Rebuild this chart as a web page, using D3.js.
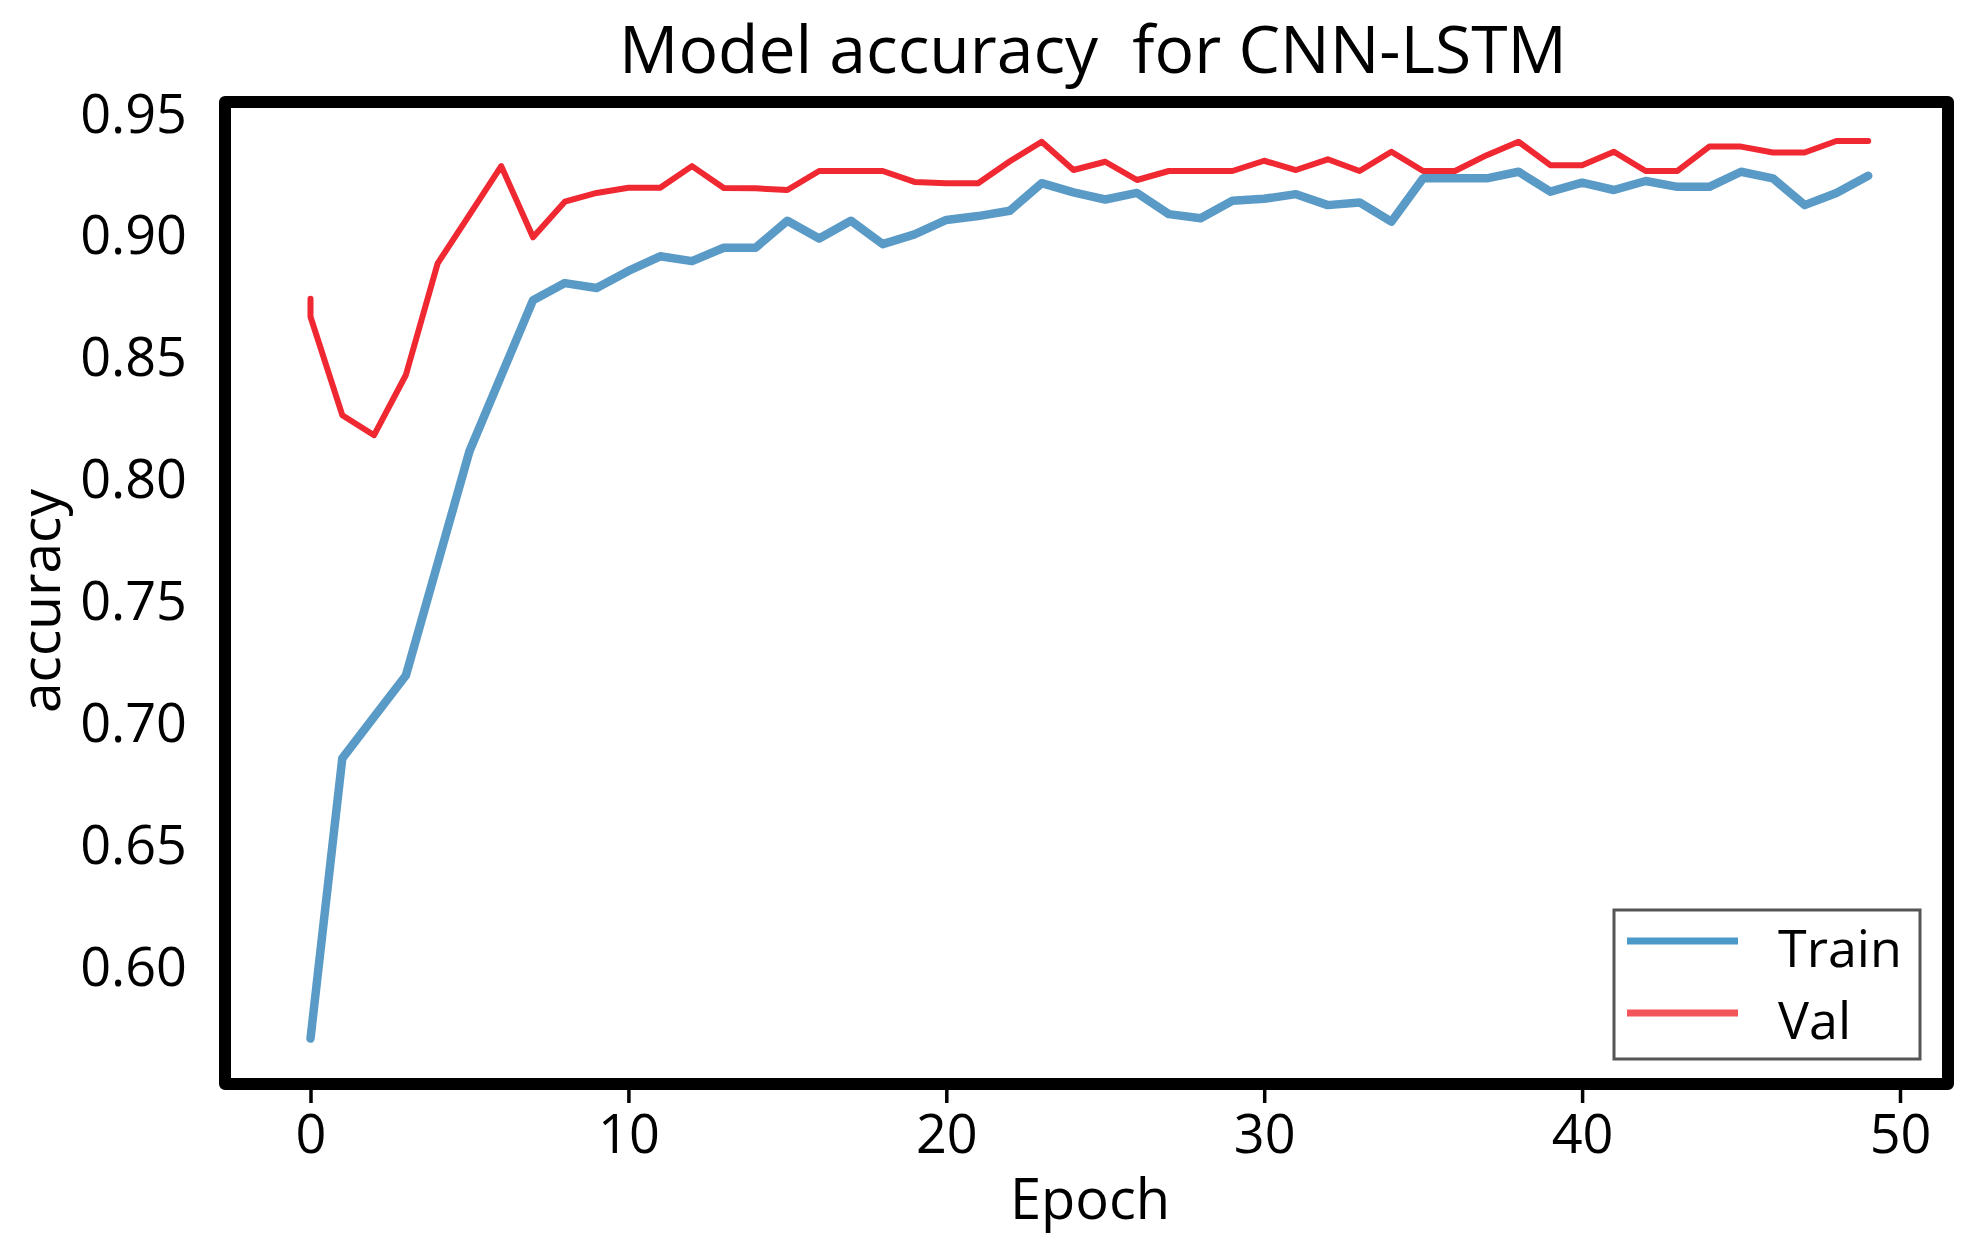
<!DOCTYPE html>
<html>
<head>
<meta charset="utf-8">
<script src="https://cdn.jsdelivr.net/npm/d3@7"></script>
<style>
  body { margin: 0; background: #fff; }
  text { font-family: "Open Sans", "Noto Sans", sans-serif; fill: #000; }
</style>
</head>
<body>
<script>

// values
var epochs = d3.range(50);

var trainAcc = [
  0.570, 0.685, 0.702, 0.719, 0.765, 0.811, 0.842, 0.873, 0.880, 0.878,
  0.885, 0.891, 0.889, 0.8945, 0.8945, 0.9056, 0.8983, 0.9056, 0.896, 0.900,
  0.9059, 0.9075, 0.9097, 0.921, 0.9172, 0.9143, 0.917, 0.9083, 0.9066, 0.9138,
  0.9146, 0.9165, 0.912, 0.9131, 0.9052, 0.923, 0.923, 0.923, 0.9257, 0.9175,
  0.9212, 0.9182, 0.9219, 0.9195, 0.9195, 0.9257, 0.923, 0.912, 0.917, 0.924
];

// val series starts with two points on epoch 0 (short vertical piece)
var valEpochs = [0].concat(epochs);
var valAcc = [
  0.8736,
  0.8662, 0.8258, 0.8176, 0.8423, 0.8881, 0.908, 0.928, 0.8988, 0.9134, 0.917,
  0.9191, 0.9191, 0.928, 0.919, 0.9189, 0.9182, 0.926, 0.926, 0.926, 0.9215,
  0.921, 0.921, 0.930, 0.938, 0.9264, 0.9298, 0.9223, 0.926, 0.926, 0.926,
  0.9302, 0.9264, 0.9308, 0.926, 0.9339, 0.926, 0.926, 0.9325, 0.938, 0.9284,
  0.9284, 0.9339, 0.926, 0.926, 0.936, 0.936, 0.9336, 0.9336, 0.9383, 0.9383
];

var xTicks = [0, 10, 20, 30, 40, 50];
var yTicks = [0.60, 0.65, 0.70, 0.75, 0.80, 0.85, 0.90, 0.95];
var seriesNames = ["Train", "Val"];

var width = 1975, height = 1251;
var box = { left: 225, right: 1948, top: 102, bottom: 1084 };

var svg = d3.select("body").append("svg")
    .attr("width", width)
    .attr("height", height);

var x = d3.scaleLinear()
    .domain([0, 50])
    .range([310.5, 1900]);

var y = d3.scaleLinear()
    .domain([0.60, 0.95])
    .range([965.5, 112.5]);

var line = d3.line()
    .x(function(d) { return x(d[0]); })
    .y(function(d) { return y(d[1]); });

var trainPts = epochs.map(function(e, i) { return [e, trainAcc[i]]; });
var valPts = valEpochs.map(function(e, i) { return [e, valAcc[i]]; });

// x axis ticks (marks hang under the bottom spine)
var xAxis = svg.append("g")
    .attr("transform", "translate(0," + box.bottom + ")")
    .call(d3.axisBottom(x).tickValues(xTicks).tickSize(19).tickFormat(d3.format("d")));
xAxis.select(".domain").remove();
xAxis.selectAll(".tick line").attr("stroke", "#000").attr("stroke-width", 3.5);
xAxis.selectAll(".tick text")
    .attr("y", 69)
    .attr("dy", 0)
    .style("font-size", "54px");

// y axis labels only, no marks
var yAxis = svg.append("g")
    .attr("transform", "translate(187,0)")
    .call(d3.axisLeft(y).tickValues(yTicks).tickSize(0).tickPadding(0).tickFormat(d3.format(".2f")));
yAxis.select(".domain").remove();
yAxis.selectAll(".tick text")
    .attr("x", 0)
    .attr("dy", 0)
    .attr("y", 19.5)
    .style("font-size", "54px");

// lines
svg.append("path")
    .datum(trainPts)
    .attr("fill", "none")
    .attr("stroke", "#5a9ac6")
    .attr("stroke-width", 8.5)
    .attr("stroke-linejoin", "round")
    .attr("stroke-linecap", "round")
    .attr("d", line);

svg.append("path")
    .datum(valPts)
    .attr("fill", "none")
    .attr("stroke", "#f02832")
    .attr("stroke-width", 6)
    .attr("stroke-linejoin", "round")
    .attr("stroke-linecap", "round")
    .attr("d", line);

// frame
svg.append("rect")
    .attr("x", box.left)
    .attr("y", box.top)
    .attr("width", box.right - box.left)
    .attr("height", box.bottom - box.top)
    .attr("fill", "none")
    .attr("stroke", "#000")
    .attr("stroke-width", 12)
    .attr("stroke-linejoin", "round");

// legend
var legend = svg.append("g");
legend.append("rect")
    .attr("x", 1614)
    .attr("y", 910)
    .attr("width", 306)
    .attr("height", 149)
    .attr("fill", "#fff")
    .attr("stroke", "#555")
    .attr("stroke-width", 3);

var legendColors = ["#4b99c9", "#f25459"];
seriesNames.forEach(function(name, i) {
  var ly = 941 + i * 72;
  legend.append("line")
      .attr("x1", 1627).attr("x2", 1738)
      .attr("y1", ly).attr("y2", ly)
      .attr("stroke", legendColors[i])
      .attr("stroke-width", 7);
  legend.append("text")
      .attr("x", 1778)
      .attr("y", ly + 26)
      .style("font-size", "52px")
      .text(name);
});

// titles
svg.append("text")
    .attr("x", 1093)
    .attr("y", 73)
    .attr("text-anchor", "middle")
    .style("font-size", "66px")
    .style("white-space", "pre")
    .text("Model accuracy  for CNN-LSTM");

svg.append("text")
    .attr("x", 1090)
    .attr("y", 1219)
    .attr("text-anchor", "middle")
    .style("font-size", "56px")
    .text("Epoch");

svg.append("text")
    .attr("transform", "translate(60,601) rotate(-90)")
    .attr("text-anchor", "middle")
    .style("font-size", "55px")
    .text("accuracy");

</script>
</body>
</html>
